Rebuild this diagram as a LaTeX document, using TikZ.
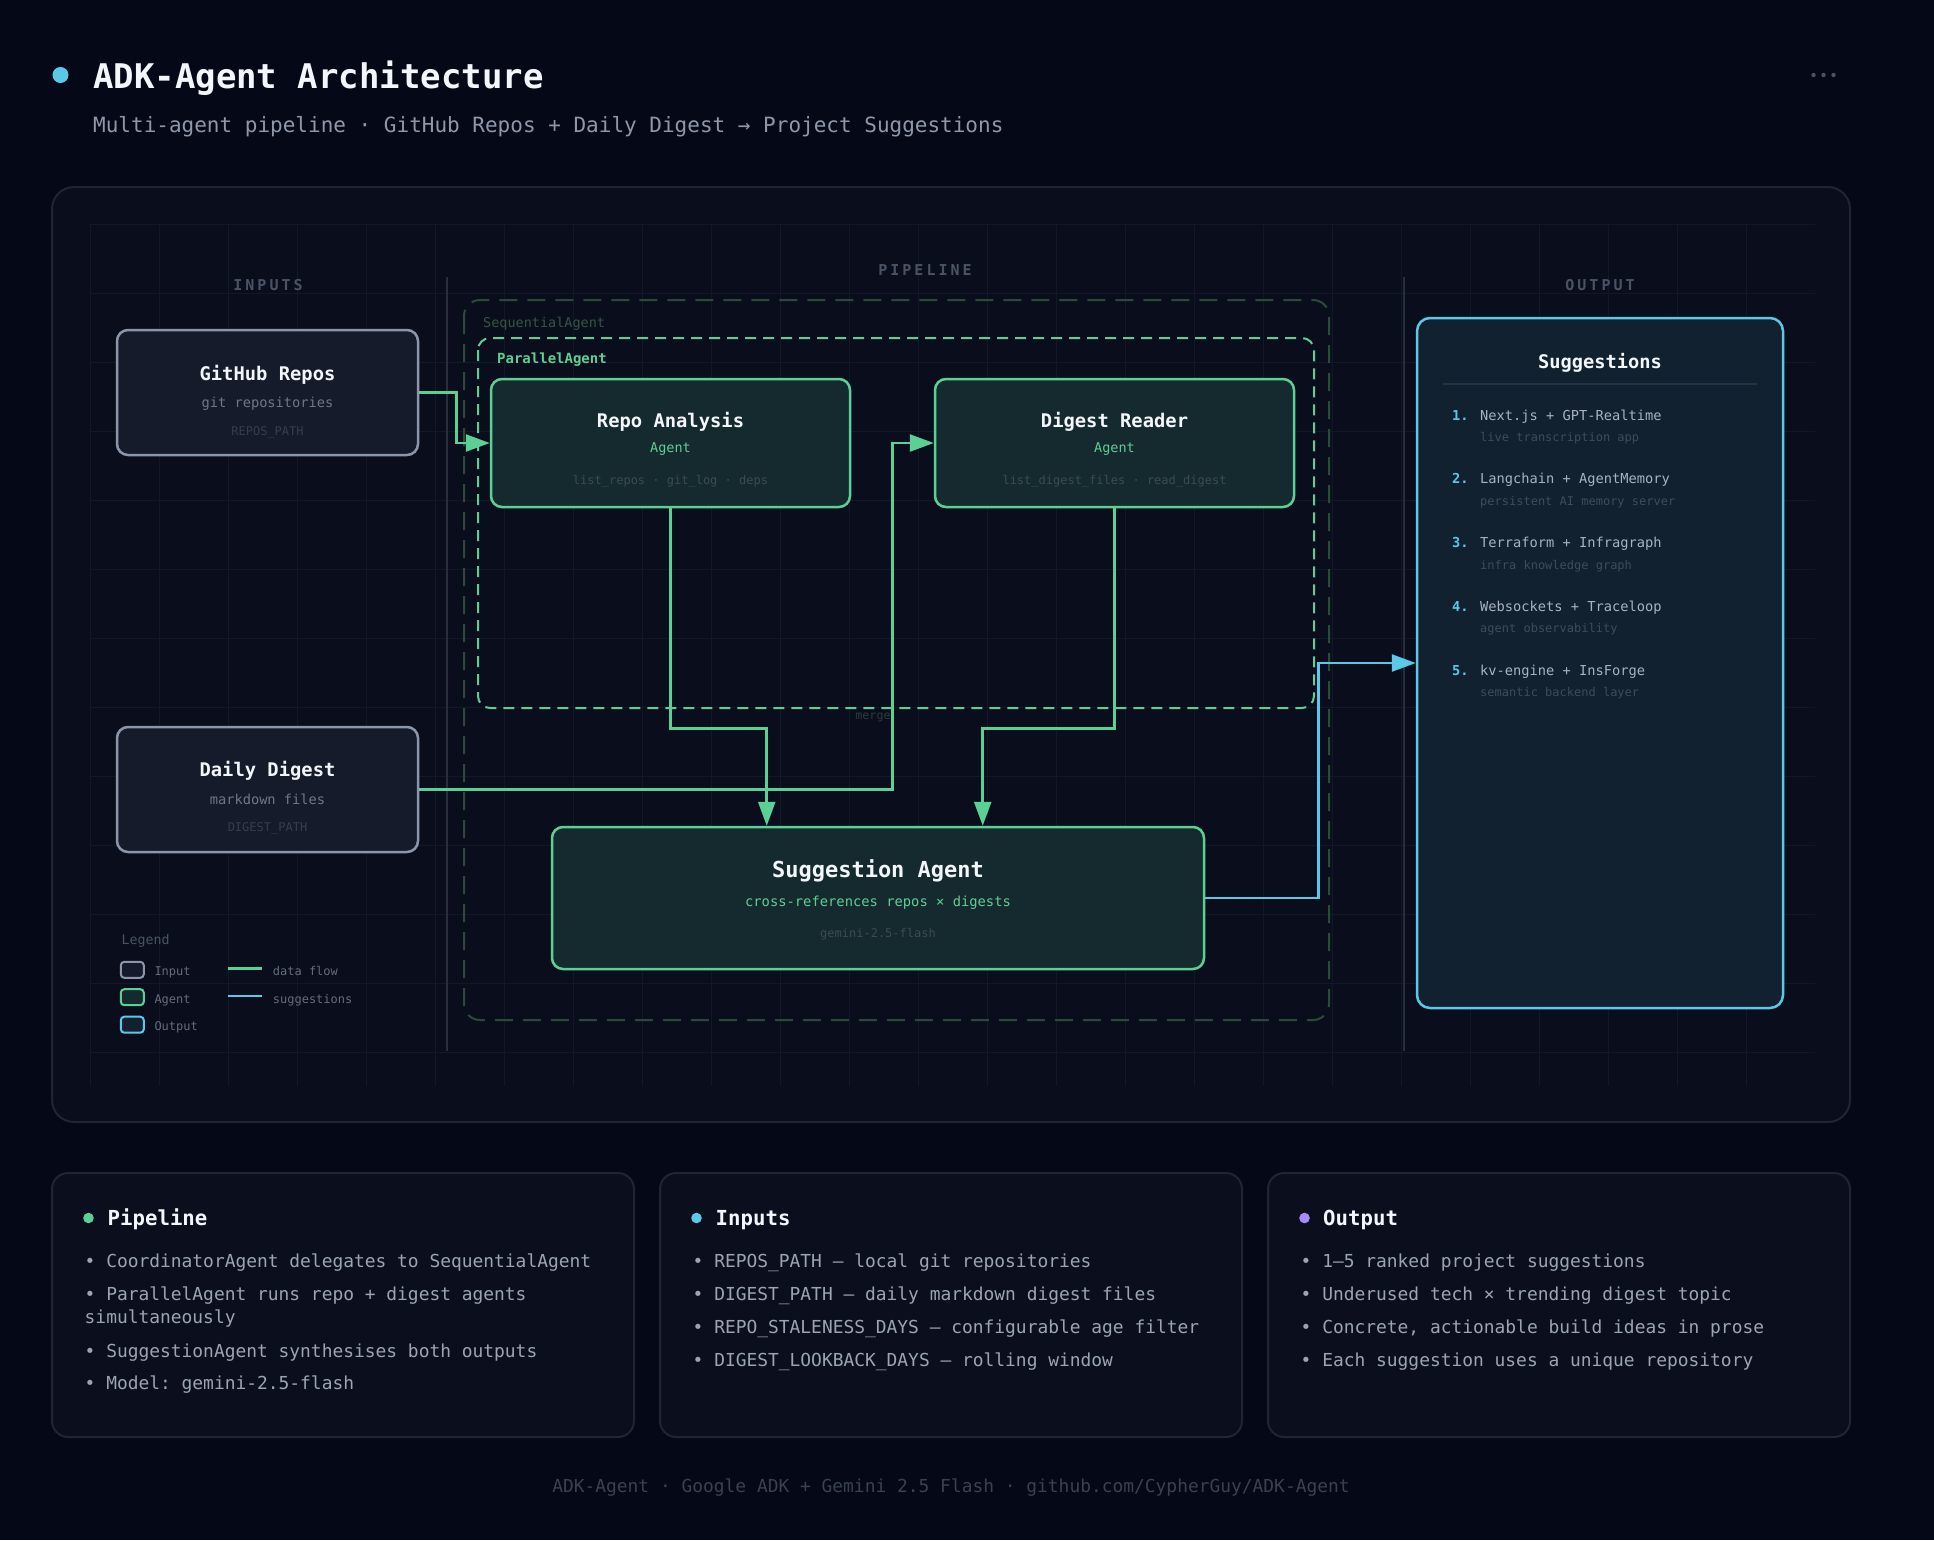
\documentclass[tikz,border=0pt]{standalone}
\usepackage{fontspec}
\setmainfont{DejaVu Sans Mono}
\usetikzlibrary{arrows.meta,calc}

\definecolor{pagebg}{HTML}{050817}
\definecolor{panelbg}{HTML}{0A0E1C}
\definecolor{paneledge}{HTML}{1E2535}
\definecolor{gridc}{HTML}{121826}
\definecolor{sepc}{HTML}{272E3D}
\definecolor{infill}{HTML}{161B2C}
\definecolor{inedge}{HTML}{8C96AA}
\definecolor{agfill}{HTML}{152A2F}
\definecolor{agedge}{HTML}{5CCF94}
\definecolor{outfill}{HTML}{11212F}
\definecolor{outedge}{HTML}{5AC8E6}
\definecolor{seqc}{HTML}{2B4A39}
\definecolor{seqlbl}{HTML}{31573F}
\definecolor{titlec}{HTML}{F3F6FA}
\definecolor{subc}{HTML}{8F98AA}
\definecolor{mutec}{HTML}{6E7788}
\definecolor{dimc}{HTML}{363D4D}
\definecolor{tealdim}{HTML}{3B4C50}
\definecolor{mergec}{HTML}{2C3C3C}
\definecolor{capc}{HTML}{4A5365}
\definecolor{legc}{HTML}{646C7E}
\definecolor{itemc}{HTML}{A8B2C2}
\definecolor{itemsub}{HTML}{3E4B5B}
\definecolor{rulec}{HTML}{243446}
\definecolor{cardbg}{HTML}{0B0F1D}
\definecolor{bulletc}{HTML}{9BA4B5}
\definecolor{footc}{HTML}{394152}
\definecolor{purp}{HTML}{A78BFA}

\newcommand\fsz[1]{\fontsize{#1}{#1}\selectfont}
\frenchspacing

\begin{document}
\begin{tikzpicture}[x=1pt, y=-1pt,
    txt/.style={inner sep=0pt, anchor=base},
    gridln/.style={gridc, line width=1pt},
    colcap/.style={txt, text=capc, font=\fsz{15}\bfseries\addfontfeature{LetterSpace=20}},
    inbox/.style={draw=inedge, fill=infill, line width=2.5pt, rounded corners=11pt,
        minimum width=301pt, minimum height=125pt, inner sep=0pt},
    agbox/.style={draw=agedge, fill=agfill, line width=2.5pt, rounded corners=11pt, inner sep=0pt},
    outbox/.style={draw=outedge, fill=outfill, line width=2.5pt, rounded corners=13pt,
        minimum width=366pt, minimum height=690pt, inner sep=0pt},
    legbox/.style={line width=2pt, rounded corners=3.5pt, minimum width=23pt, minimum height=16pt, inner sep=0pt},
    card/.style={draw=paneledge, fill=cardbg, line width=2pt, rounded corners=16pt},
    flow/.style={draw=agedge, line width=2.5pt, -{Triangle[length=24pt,width=17pt]}},
    sflow/.style={draw=outedge, line width=2.5pt, -{Triangle[length=24pt,width=17pt]}},
    bul/.style={txt, anchor=base west, text=bulletc, font=\fsz{17.9}},
    head/.style={txt, anchor=base west, text=titlec, font=\fsz{20.7}\bfseries}]

    % Fonas
    \fill[pagebg] (0,0) rectangle (1934,1540);
    \useasboundingbox (0,0) rectangle (1934,1540);

    % Antraste
    \fill[outedge] (60.5,75) circle (8pt);
    \node[txt, anchor=base west, text=titlec, font=\fsz{34}\bfseries] (title) at (93,88) {ADK-Agent Architecture};
    \node[txt, anchor=base west, text=subc, font=\fsz{21}] (subtitle) at (93,132)
        {Multi-agent pipeline · GitHub Repos + Daily Digest → Project Suggestions};
    \foreach \x in {1813.5,1823.5,1833.5} \fill[capc] (\x,75) circle (2.2pt);

    % Pagrindinis skydelis
    \draw[paneledge, fill=panelbg, line width=2pt, rounded corners=22pt] (52,187) rectangle (1850,1122);

    % Tinklelis
    \begin{scope}
        \clip (90,224) rectangle (1815,1086);
        \foreach \i in {0,...,25} \draw[gridln] ({90+69*\i},224) -- ({90+69*\i},1086);
        \foreach \j in {0,...,12} \draw[gridln] (90,{224+69*\j}) -- (1815,{224+69*\j});
    \end{scope}

    % Stulpeliai
    \draw[sepc, line width=2pt] (446.5,277) -- (446.5,1051);
    \draw[sepc, line width=2pt] (1403.5,277) -- (1403.5,1051);
    \node[colcap] (capIn) at (268,290.5) {INPUTS};
    \node[colcap] (capPipe) at (925,275.5) {PIPELINE};
    \node[colcap] (capOut) at (1600,290.5) {OUTPUT};

    % Konteineriai
    \draw[seqc, line width=2pt, dash pattern=on 18pt off 10pt, rounded corners=16pt] (464,300) rectangle (1329,1020);
    \node[txt, anchor=base west, text=seqlbl, font=\fsz{13.5}] (seqLbl) at (483,327.5) {SequentialAgent};
    \draw[agedge, line width=2pt, dash pattern=on 11pt off 7pt, rounded corners=12pt] (478,338) rectangle (1314,708);
    \node[txt, anchor=base west, text=agedge, font=\fsz{14}\bfseries] (parLbl) at (497,363.5) {ParallelAgent};
    \node[txt, text=mergec, font=\fsz{11.7}] (mergeLbl) at (873,719) {merge};

    % Mazgai
    \node[inbox] (gh) at (267.5,392.5) {};
    \node[inbox] (dd) at (267.5,789.5) {};
    \node[agbox, minimum width=359pt, minimum height=128pt] (repo) at (670.5,443) {};
    \node[agbox, minimum width=359pt, minimum height=128pt] (dig) at (1114.5,443) {};
    \node[agbox, minimum width=652pt, minimum height=142pt] (sugg) at (878,898) {};
    \node[outbox] (out) at (1600,663) {};

    % Rodykles
    \draw[flow] (gh.east) -- ++(37,0) |- (repo.west);
    \draw[flow] (dd.east) -- ++(473,0) |- (dig.west);
    \draw[flow] (repo.south) -- ++(0,220) -| ($(sugg.north west)!0.33!(sugg.north east)$);
    \draw[flow] (dig.south) -- ++(0,220) -| ($(sugg.north west)!0.66!(sugg.north east)$);
    \draw[sflow] (sugg.east) -- ++(113,0) |- (out.west);

    % Tekstai mazguose
    \node[txt, text=titlec, font=\fsz{18.8}\bfseries] (ghT) at (267.5,380) {GitHub Repos};
    \node[txt, text=mutec, font=\fsz{13.7}] (ghS) at (267.5,407.5) {git repositories};
    \node[txt, text=dimc, font=\fsz{12}] (ghP) at (267.5,435) {REPOS\_PATH};
    \node[txt, text=titlec, font=\fsz{18.8}\bfseries] (ddT) at (267.5,776) {Daily Digest};
    \node[txt, text=mutec, font=\fsz{13.7}] (ddS) at (267.5,804) {markdown files};
    \node[txt, text=dimc, font=\fsz{12}] (ddP) at (267.5,831) {DIGEST\_PATH};

    \node[txt, text=titlec, font=\fsz{18.8}\bfseries] (repoT) at (670.5,427) {Repo Analysis};
    \node[txt, text=agedge, font=\fsz{13.5}] (repoS) at (670.5,452.5) {Agent};
    \node[txt, text=tealdim, font=\fsz{12}] (repoP) at (670.5,484) {list\_repos · git\_log · deps};
    \node[txt, text=titlec, font=\fsz{18.8}\bfseries] (digT) at (1114.5,427) {Digest Reader};
    \node[txt, text=agedge, font=\fsz{13.5}] (digS) at (1114.5,452.5) {Agent};
    \node[txt, text=tealdim, font=\fsz{12}] (digP) at (1114.5,484) {list\_digest\_files · read\_digest};

    \node[txt, text=titlec, font=\fsz{22}\bfseries] (suggT) at (878,877) {Suggestion Agent};
    \node[txt, text=agedge, font=\fsz{13.8}] (suggS) at (878,906) {cross-references repos × digests};
    \node[txt, text=tealdim, font=\fsz{12}] (suggP) at (878,937.5) {gemini-2.5-flash};

    % Pasiulymai
    \node[txt, text=titlec, font=\fsz{18.7}\bfseries] (outT) at (1600,368.5) {Suggestions};
    \draw[rulec, line width=2pt] (1443,384) -- (1757,384);
    \foreach \i/\main/\desc in {1/Next.js + GPT-Realtime/live transcription app,
                                2/Langchain + AgentMemory/persistent AI memory server,
                                3/Terraform + Infragraph/infra knowledge graph,
                                4/Websockets + Traceloop/agent observability,
                                5/kv-engine + InsForge/semantic backend layer} {
        \node[txt, anchor=base west, text=outedge, font=\fsz{13.7}\bfseries] (num\i) at (1452,{420+63.8*(\i-1)}) {\i.};
        \node[txt, anchor=base west, text=itemc, font=\fsz{13.7}] (itm\i) at (1480,{420+63.8*(\i-1)}) {\main};
        \node[txt, anchor=base west, text=itemsub, font=\fsz{12}] (dsc\i) at (1480,{441.5+63.8*(\i-1)}) {\desc};
    }

    % Legenda
    \node[txt, anchor=base west, text=capc, font=\fsz{13.3}] (legT) at (121.5,944) {Legend};
    \node[legbox, draw=inedge, fill=infill] (legIn) at (132.3,969.8) {};
    \node[legbox, draw=agedge, fill=agfill] (legAg) at (132.3,997.2) {};
    \node[legbox, draw=outedge, fill=outfill] (legOut) at (132.3,1024.7) {};
    \node[txt, anchor=base west, text=legc, font=\fsz{12}] (legInT) at (154.3,975.6) {Input};
    \node[txt, anchor=base west, text=legc, font=\fsz{12}] (legAgT) at (154.3,1003.6) {Agent};
    \node[txt, anchor=base west, text=legc, font=\fsz{12}] (legOutT) at (154.3,1030.6) {Output};
    \draw[agedge, line width=2.5pt] (227.7,968.7) -- (262.3,968.7);
    \draw[outedge, line width=2.5pt] (227.7,996) -- (262.3,996);
    \node[txt, anchor=base west, text=legc, font=\fsz{12}] (legFlow) at (272.7,975.6) {data flow};
    \node[txt, anchor=base west, text=legc, font=\fsz{12}] (legSug) at (272.7,1003.6) {suggestions};

    % Korteles
    \draw[card] (52,1173) rectangle (634,1437);
    \draw[card] (660,1173) rectangle (1242,1437);
    \draw[card] (1268,1173) rectangle (1850,1437);

    \fill[agedge] (88.5,1218) circle (5.3pt);
    \node[head] (pipeH) at (107.5,1225.5) {Pipeline};
    \node[bul] (pipe1) at (84.5,1267.2) {• CoordinatorAgent delegates to SequentialAgent};
    \node[bul] (pipe2) at (84.5,1300.5) {• ParallelAgent runs repo + digest agents};
    \node[bul] (pipe2b) at (84.5,1323.8) {simultaneously};
    \node[bul] (pipe3) at (84.5,1357.2) {• SuggestionAgent synthesises both outputs};
    \node[bul] (pipe4) at (84.5,1389.5) {• Model: gemini-2.5-flash};

    \fill[outedge] (696.5,1218) circle (5.3pt);
    \node[head] (inH) at (715.5,1225.5) {Inputs};
    \node[bul] (in1) at (692.5,1267.2) {• REPOS\_PATH — local git repositories};
    \node[bul] (in2) at (692.5,1300.5) {• DIGEST\_PATH — daily markdown digest files};
    \node[bul] (in3) at (692.5,1333.2) {• REPO\_STALENESS\_DAYS — configurable age filter};
    \node[bul] (in4) at (692.5,1366.5) {• DIGEST\_LOOKBACK\_DAYS — rolling window};

    \fill[purp] (1304.5,1218) circle (5.3pt);
    \node[head] (outH) at (1323,1225.5) {Output};
    \node[bul] (out1) at (1300.5,1267.2) {• 1–5 ranked project suggestions};
    \node[bul] (out2) at (1300.5,1300.5) {• Underused tech × trending digest topic};
    \node[bul] (out3) at (1300.5,1333.2) {• Concrete, actionable build ideas in prose};
    \node[bul] (out4) at (1300.5,1366.5) {• Each suggestion uses a unique repository};

    % Apacia
    \node[txt, text=footc, font=\fsz{17.9}] (foot) at (951,1492)
        {ADK-Agent · Google ADK + Gemini 2.5 Flash · github.com/CypherGuy/ADK-Agent};
\end{tikzpicture}
\end{document}
